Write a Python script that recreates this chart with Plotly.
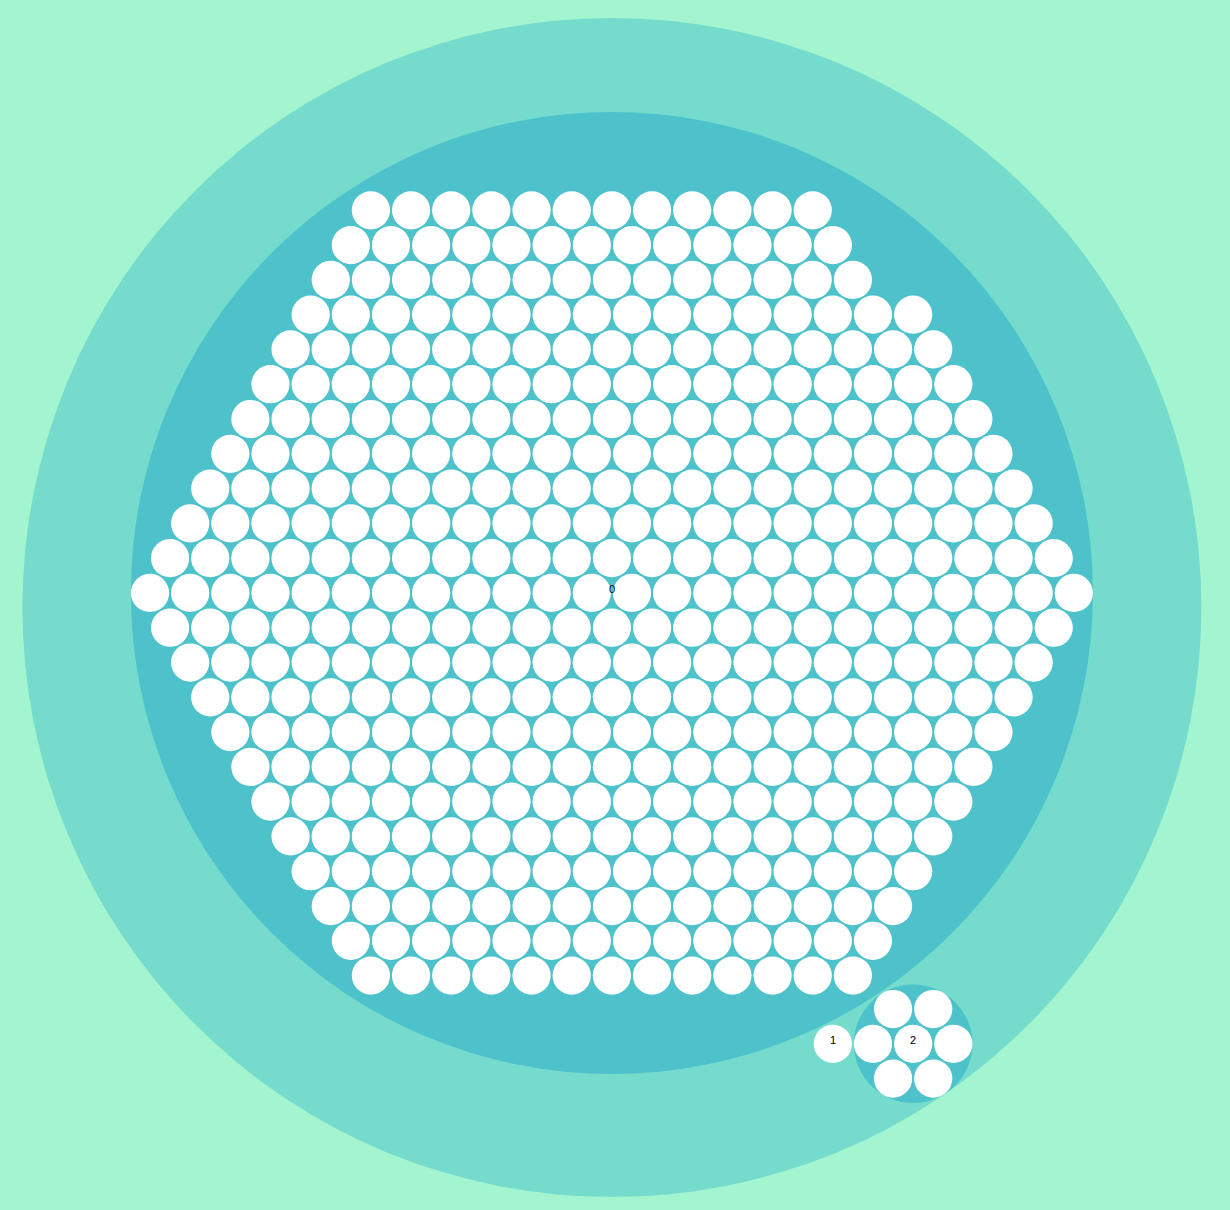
import math
import plotly.graph_objects as go

# ---------------- data ----------------
ROOT_NAME = "root"
group_names = ["0", "1", "2"]        # children of the root
group_leaf_counts = [417, 0, 7]      # unit-size leaves inside each group (0 -> the group is itself a leaf)
group_sizes = [0, 1, 0]              # size of a group that is itself a leaf
leaf_size = 1

# ---------------- layout settings ----------------
PADDING = 2
PACK_SIZE = 1179
CENTER_X, CENTER_Y = 611.9, 607.5
W, H = 1230, 1210


class Node:
    def __init__(self, name, depth, value=0.0):
        self.name = name
        self.depth = depth
        self.value = value
        self.children = []
        self.x = 0.0
        self.y = 0.0
        self.r = 0.0
        self.nxt = None
        self.prv = None


# build hierarchy
root = Node(ROOT_NAME, 0)
for name, cnt, size in zip(group_names, group_leaf_counts, group_sizes):
    g = Node(name, 1)
    if cnt:
        g.children = [Node(f"{name}.{i}", 2, leaf_size) for i in range(cnt)]
        g.value = sum(c.value for c in g.children)
    else:
        g.value = size
    root.children.append(g)
root.value = sum(c.value for c in root.children)


def sort_tree(n):
    n.children.sort(key=lambda c: c.value)   # d3 v3 pack sort: ascending value
    for c in n.children:
        sort_tree(c)


sort_tree(root)


def post_order(n, out):
    for c in n.children:
        post_order(c, out)
    out.append(n)
    return out


def pre_order(n, out):
    out.append(n)
    for c in n.children:
        pre_order(c, out)
    return out


# ---- d3 v3 pack layout ----
def place(a, b, c):
    db = a.r + c.r
    dx = b.x - a.x
    dy = b.y - a.y
    if db and (dx or dy):
        da = b.r + c.r
        dc = dx * dx + dy * dy
        da *= da
        db *= db
        x = 0.5 + (db - da) / (2 * dc)
        db2 = db - dc
        y = math.sqrt(max(0.0, 2 * da * (db + dc) - db2 * db2 - da * da)) / (2 * dc)
        c.x = a.x + x * dx + y * dy
        c.y = a.y + x * dy - y * dx
    else:
        c.x = a.x + db
        c.y = a.y


def insert(a, b):
    c = a.nxt
    a.nxt = b
    b.prv = a
    b.nxt = c
    c.prv = b


def splice(a, b):
    a.nxt = b
    b.prv = a


def intersects(a, b):
    dx = b.x - a.x
    dy = b.y - a.y
    dr = a.r + b.r
    return 0.999 * dr * dr > dx * dx + dy * dy


def pack_siblings(node):
    nodes = node.children
    n = len(nodes)
    if not n:
        return
    bb = [math.inf, -math.inf, math.inf, -math.inf]

    def bound(c):
        bb[0] = min(c.x - c.r, bb[0])
        bb[1] = max(c.x + c.r, bb[1])
        bb[2] = min(c.y - c.r, bb[2])
        bb[3] = max(c.y + c.r, bb[3])

    for d in nodes:
        d.nxt = d
        d.prv = d
    a = nodes[0]
    a.x = -a.r
    a.y = 0.0
    bound(a)
    if n > 1:
        b = nodes[1]
        b.x = b.r
        b.y = 0.0
        bound(b)
        if n > 2:
            c = nodes[2]
            place(a, b, c)
            bound(c)
            insert(a, c)
            a.prv = c
            insert(c, b)
            b = a.nxt
            i = 3
            while i < n:
                c = nodes[i]
                place(a, b, c)
                isect = False
                s1 = 1
                s2 = 1
                j = b.nxt
                while j is not b:
                    if intersects(j, c):
                        isect = True
                        break
                    j = j.nxt
                    s1 += 1
                k = None
                if isect:
                    k = a.prv
                    while k is not j.prv:
                        if intersects(k, c):
                            break
                        k = k.prv
                        s2 += 1
                if isect:
                    if s1 < s2 or (s1 == s2 and b.r < a.r):
                        b = j
                        splice(a, b)
                    else:
                        a = k
                        splice(a, b)
                else:
                    insert(a, c)
                    b = c
                    bound(c)
                    i += 1
    cx = (bb[0] + bb[1]) / 2
    cy = (bb[2] + bb[3]) / 2
    cr = 0.0
    for c in nodes:
        c.x -= cx
        c.y -= cy
        cr = max(cr, c.r + math.sqrt(c.x * c.x + c.y * c.y))
    node.r = cr


def transform(n, x, y, k):
    x = x + k * n.x
    y = y + k * n.y
    n.x, n.y = x, y
    n.r *= k
    for c in n.children:
        transform(c, x, y, k)


post = post_order(root, [])
for d in post:
    d.r = math.sqrt(d.value)
for d in post:
    pack_siblings(d)
if PADDING:
    dr = PADDING * max(2 * root.r / PACK_SIZE, 2 * root.r / PACK_SIZE) / 2
    for d in post:
        d.r += dr
    for d in post:
        pack_siblings(d)
    for d in post:
        d.r -= dr
kscale = 1 / max(2 * root.r / PACK_SIZE, 2 * root.r / PACK_SIZE)
root.x = root.y = 0.0
transform(root, CENTER_X, CENTER_Y, kscale)


# ---- d3 v3 colour scale: linear([-1,5]) -> hsl(152,80%,80%)..hsl(228,30%,40%), HCL interpolation ----
def jsround(v):
    return int(math.floor(v + 0.5))


def hsl_rgb(h, s, l):
    h = h % 360
    m2 = l * (1 + s) if l <= 0.5 else l + s - l * s
    m1 = 2 * l - m2

    def v(hh):
        if hh > 360:
            hh -= 360
        elif hh < 0:
            hh += 360
        if hh < 60:
            return m1 + (m2 - m1) * hh / 60
        if hh < 180:
            return m2
        if hh < 240:
            return m1 + (m2 - m1) * (240 - hh) / 60
        return m1

    return [jsround(v(h + 120) * 255), jsround(v(h) * 255), jsround(v(h - 120) * 255)]


LX, LY, LZ = 0.950470, 1.0, 1.088830


def rgb_xyz(r):
    r /= 255
    return r / 12.92 if r <= 0.04045 else ((r + 0.055) / 1.055) ** 2.4


def xyz_lab(x):
    return x ** (1 / 3) if x > 0.008856 else 7.787037 * x + 4 / 29


def rgb_hcl(rgb):
    r, g, b = (rgb_xyz(v) for v in rgb)
    x = xyz_lab((0.4124564 * r + 0.3575761 * g + 0.1804375 * b) / LX)
    y = xyz_lab((0.2126729 * r + 0.7151522 * g + 0.0721750 * b) / LY)
    z = xyz_lab((0.0193339 * r + 0.1191920 * g + 0.9503041 * b) / LZ)
    L, A, B = 116 * y - 16, 500 * (x - y), 200 * (y - z)
    return math.degrees(math.atan2(B, A)), math.sqrt(A * A + B * B), L


def lab_xyz(x):
    return x * x * x if x > 0.206893034 else (x - 4 / 29) / 7.787037


def xyz_rgb(r):
    return jsround(255 * (12.92 * r if r <= 0.00304 else 1.055 * r ** (1 / 2.4) - 0.055))


def hcl_hex(h, c, l):
    h = math.radians(h)
    a, b = math.cos(h) * c, math.sin(h) * c
    y = (l + 16) / 116
    x = y + a / 500
    z = y - b / 200
    x = lab_xyz(x) * LX
    y = lab_xyz(y) * LY
    z = lab_xyz(z) * LZ
    rgb = [xyz_rgb(3.2404542 * x - 1.5371385 * y - 0.4985314 * z),
           xyz_rgb(-0.9692660 * x + 1.8760108 * y + 0.0415560 * z),
           xyz_rgb(0.0556434 * x - 0.2040259 * y + 1.0572252 * z)]
    return "#" + "".join(f"{min(255, max(0, v)):02x}" for v in rgb)


HA, CA, LA = rgb_hcl(hsl_rgb(152, 0.8, 0.8))
HB, CB, LB = rgb_hcl(hsl_rgb(228, 0.3, 0.4))
dh = HB - HA
if dh > 180:
    dh -= 360
elif dh < -180:
    dh += 360


def color(depth):
    t = (depth + 1) / 6
    return hcl_hex(HA + dh * t, CA + (CB - CA) * t, LA + (LB - LA) * t)


BG = color(-1)

# ---------------- figure ----------------
shapes = []
for n in pre_order(root, []):
    fill = color(n.depth) if n.children else "#ffffff"
    shapes.append(dict(type="circle", xref="x", yref="y",
                       x0=n.x - n.r, x1=n.x + n.r, y0=n.y - n.r, y1=n.y + n.r,
                       fillcolor=fill, line=dict(width=0), layer="above"))

annotations = []
for g in root.children:
    annotations.append(dict(x=g.x, y=g.y, text=g.name, showarrow=False,
                            xanchor="center", yanchor="middle", yshift=4,
                            font=dict(family="Liberation Sans, Arial, Helvetica, sans-serif",
                                      size=11, color="#000000")))

fig = go.Figure()
fig.add_trace(go.Scatter(x=[g.x for g in root.children], y=[g.y for g in root.children],
                         mode="markers", marker=dict(opacity=0), hoverinfo="skip",
                         showlegend=False))
fig.update_layout(
    width=W, height=H, autosize=False,
    margin=dict(l=0, r=0, t=0, b=0, pad=0),
    paper_bgcolor=BG, plot_bgcolor=BG,
    shapes=shapes, annotations=annotations, showlegend=False,
    xaxis=dict(range=[0, W], visible=False, fixedrange=True),
    yaxis=dict(range=[H, 0], visible=False, fixedrange=True),
)
fig.write_html("out.html", config={"displayModeBar": False},
               post_script="document.body.style.margin='0';document.body.style.overflow='hidden';")
